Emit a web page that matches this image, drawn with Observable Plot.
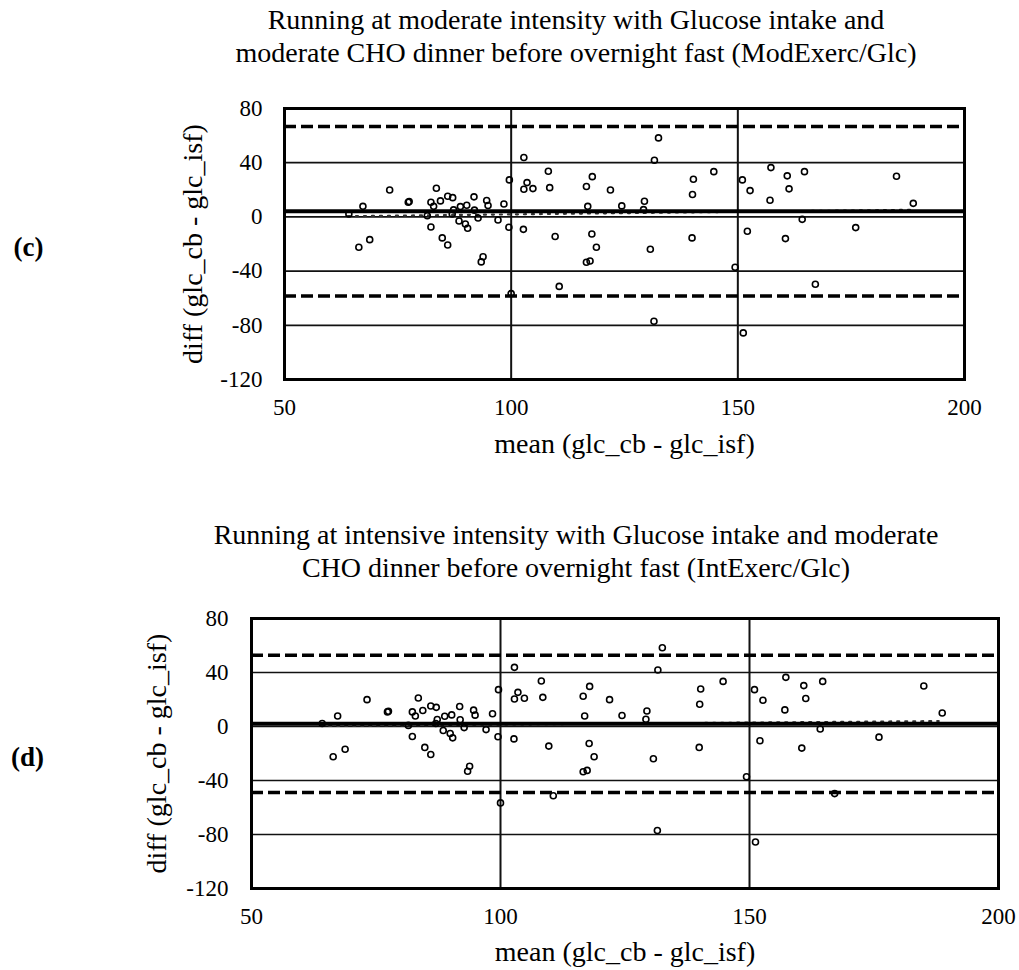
<!DOCTYPE html>
<html><head><meta charset="utf-8">
<script src="https://cdn.jsdelivr.net/npm/d3@7"></script>
<script src="https://cdn.jsdelivr.net/npm/@observablehq/plot@0.6"></script>
<style>
body{margin:0;background:#fff;}
#wrap{position:relative;width:1019px;height:970px;overflow:hidden;font-family:"Liberation Serif","Times New Roman",serif;}
.panel{position:absolute;left:0;}
.title{position:absolute;left:76px;width:1000px;text-align:center;font-size:28px;line-height:33px;color:#000;}
svg text{font-family:"Liberation Serif","Times New Roman",serif;}
</style></head><body>
<div id="wrap">
  <div class="panel" id="pc" style="top:0px"></div>
  <div class="panel" id="pd" style="top:490px"></div>
  <div class="title" style="top:3px">Running at moderate intensity with Glucose intake and<br>moderate CHO dinner before overnight fast (ModExerc/Glc)</div>
  <div class="title" style="top:518px">Running at intensive intensity with Glucose intake and moderate<br>CHO dinner before overnight fast (IntExerc/Glc)</div>
</div>
<script>
// mean (glc_cb, glc_isf) values
const meanValues = [64.2,67.3,66.4,68.8,73.2,77.3,77.5,81.5,82.3,82.3,82.9,83.5,84.4,84.8,86.0,86.0,87.1,87.3,87.0,88.5,88.8,89.9,90.4,90.2,91.8,91.9,92.7,93.4,93.8,94.6,94.9,97.1,98.4,99.6,99.5,100.0,102.8,103.5,102.8,104.8,102.7,108.2,108.5,109.7,110.6,116.6,117.9,116.9,117.8,118.8,116.6,117.4,121.9,124.4,129.4,129.2,131.6,132.5,130.7,131.5,140.2,144.7,140.0,139.9,149.4,151.0,152.7,152.1,151.2,157.3,157.1,160.9,161.3,160.5,164.7,164.2,167.1,176.0,185.0,188.7];
// diff (glc_cb - glc_isf) values
const diffValues = [2.2,7.8,-22.4,-16.8,19.9,10.8,11.3,0.8,-7.4,10.8,7.8,21.1,11.8,-15.5,-20.7,15.2,14.2,5.2,2.2,-3.0,7.6,-5.2,-8.4,8.6,14.8,5.0,-0.8,-33.2,-29.4,12.1,8.4,-2.3,9.5,27.3,-7.6,-56.6,43.8,25.3,20.4,20.9,-9.2,33.7,21.6,-14.5,-51.3,22.4,29.7,7.8,-12.6,-22.4,-33.5,-32.5,19.9,8.1,11.5,5.4,41.8,58.3,-23.9,-77.0,27.8,33.4,16.5,-15.5,-37.2,27.3,19.4,-10.6,-85.6,36.4,12.3,30.3,20.7,-16.0,33.4,-1.8,-49.7,-7.9,30.0,10.0];

const xTicks = [50, 100, 150, 200];
const yTicks = [-120, -80, -40, 0, 40, 80];
const gridY = [-80, -40, 0, 40];
const gridX = [100, 150];

// panel (c) statistics
const biasC = 4.2, upperC = 66.8, lowerC = -58.4;
const trendYC = [0.5, 5.2];
// panel (d) statistics
const biasD = 2.0, upperD = 52.8, lowerD = -48.9;
const trendYD = [0.4, 4.0];
const trendX = [64, 188];

const xLabel = "mean (glc_cb - glc_isf)";
const yLabel = "diff (glc_cb - glc_isf)";

const FONT = '"Liberation Serif","Times New Roman",serif';

function makePanel(o) {
  const pts = meanValues.map((m, i) => ({m, d: diffValues[i]}));
  const trend = trendX.map((x, i) => ({x, y: o.trendY[i]}));
  return Plot.plot({
    width: 1019, height: o.height,
    marginTop: o.top, marginBottom: o.bottom, marginLeft: o.left, marginRight: o.right,
    x: {domain: [50, 200], label: null},
    y: {domain: [-120, 80], label: null},
    style: {fontFamily: FONT, background: "transparent", color: "#000", overflow: "visible"},
    marks: [
      Plot.ruleY(gridY, {stroke: "#111", strokeWidth: 1.7}),
      Plot.ruleX(gridX, {stroke: "#111", strokeWidth: 2}),
      Plot.line(trend, {x: "x", y: "y", stroke: "#333", strokeWidth: 2.2, strokeDasharray: "2,6"}),
      Plot.ruleY([o.upper, o.lower], {stroke: "#000", strokeWidth: 3.5, strokeDasharray: "12,5"}),
      Plot.ruleY([o.bias], {stroke: "#000", strokeWidth: 4}),
      Plot.dot(pts, {x: "m", y: "d", r: 3, stroke: "#000", strokeWidth: 1.6, fill: "none"}),
      Plot.frame({stroke: "#000", strokeWidth: 3}),
      Plot.axisX(xTicks, {tickSize: 0, tickPadding: 19, fontSize: 23, fontFamily: FONT, label: null, tickFormat: d => String(d)}),
      Plot.axisY(yTicks, {tickSize: 0, tickPadding: o.yPad, fontSize: 23, fontFamily: FONT, label: null, tickFormat: d => String(d)}),
      Plot.text([xLabel], {frameAnchor: "bottom", textAnchor: "middle", dy: o.xLabelDy, fontSize: 28, fontFamily: FONT, text: d => d}),
      Plot.text([yLabel], {frameAnchor: "left", textAnchor: "middle", dx: o.yLabelDx, rotate: -90, fontSize: 28, fontFamily: FONT, text: d => d}),
      Plot.text([o.tag], {frameAnchor: "left", textAnchor: "middle", dx: o.tagDx, dy: o.tagDy, fontSize: 27, fontWeight: "bold", fontFamily: FONT, text: d => d})
    ]
  });
}

document.getElementById("pc").append(makePanel({
  height: 480, top: 108, bottom: 101, left: 284, right: 55,
  bias: biasC, upper: upperC, lower: lowerC, trendY: trendYC,
  xLabelDy: 73, yLabelDx: -91, tagDx: -256, tagDy: 3.5, tag: "(c)", yPad: 22
}));
document.getElementById("pd").append(makePanel({
  height: 480, top: 128, bottom: 82, left: 251, right: 21,
  bias: biasD, upper: upperD, lower: lowerD, trendY: trendYD,
  xLabelDy: 72, yLabelDx: -94, tagDx: -224, tagDy: 4, tag: "(d)", yPad: 23
}));
</script>
</body></html>
